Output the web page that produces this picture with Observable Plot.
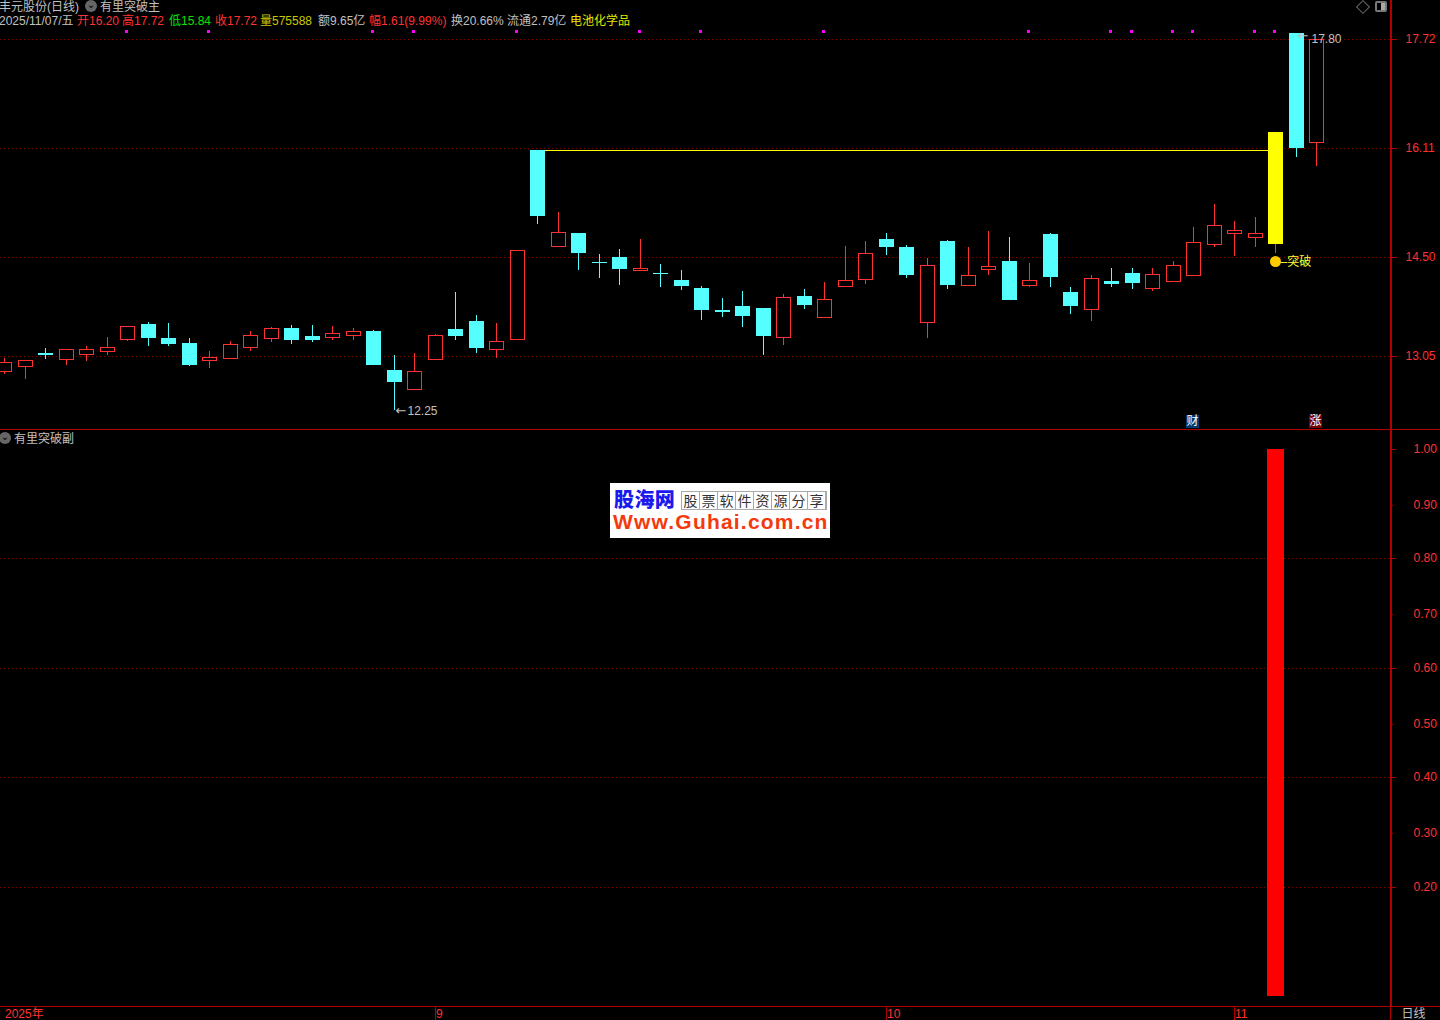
<!DOCTYPE html>
<html lang="zh">
<head>
<meta charset="utf-8">
<title>有里突破</title>
<script src="https://cdn.jsdelivr.net/npm/d3@7"></script>
<script src="https://cdn.jsdelivr.net/npm/@observablehq/plot@0.6"></script>
<style>
html,body{margin:0;padding:0;background:#000;overflow:hidden}
#page{position:relative;width:1440px;height:1020px;overflow:hidden;background:#000;font:12px "Liberation Sans","Noto Sans CJK SC",sans-serif}
#page svg{position:absolute;left:0;display:block}
.t{position:absolute;white-space:nowrap;line-height:14px;height:14px;color:#c0c0c0}
.ic{position:absolute;width:12px;height:12px;border-radius:50%;background:#666;color:#111;text-align:center;line-height:9px;font-size:10px;font-weight:bold;font-family:"DejaVu Sans"}
#wm{position:absolute;left:610px;top:483px;width:220px;height:55px;background:#fff;overflow:hidden}
#wm div{position:absolute;white-space:nowrap}
#wm .a{left:4px;top:7px;font:900 20px/20px "Liberation Sans","Noto Sans CJK SC";color:#1a1aee;letter-spacing:.4px}
#wm .b{left:71px;top:8px;display:flex;border:1px solid #aaa;height:17px}
#wm .b span{width:17px;text-align:center;font:14px/17px "Noto Sans CJK SC";color:#333;border-right:1px solid #aaa;box-sizing:content-box}
#wm .c{left:3px;top:29px;font:bold 21px/20px "Liberation Sans";color:#f43a0c;letter-spacing:1.2px}
</style>
</head>
<body>
<div id="page"></div>
<script>
// ---- price series, one value per trading day ----
const opens = [12.83,12.89,13.09,13.00,13.08,13.12,13.30,13.52,13.31,13.24,12.99,13.02,13.18,13.31,13.46,13.34,13.33,13.36,13.41,12.84,12.56,13.00,13.44,13.56,13.15,13.29,16.08,14.67,14.86,14.43,14.50,14.31,14.27,14.16,14.05,13.72,13.78,13.75,13.33,13.93,13.62,14.08,14.18,14.77,14.65,13.55,14.74,14.09,14.33,14.44,14.09,14.84,13.99,13.74,14.15,14.27,14.05,14.15,14.24,14.70,14.85,14.79,14.69,17.80,16.20];
const highs = [13.01,12.99,13.16,13.14,13.19,13.32,13.48,13.55,13.53,13.31,13.12,13.27,13.41,13.47,13.50,13.50,13.49,13.46,13.43,13.06,13.09,13.37,13.99,13.65,13.53,14.61,16.08,15.17,14.86,14.55,14.62,14.77,14.40,14.31,14.08,13.90,14.00,13.75,13.96,14.03,14.13,14.66,14.74,14.86,14.68,14.49,14.75,14.65,14.89,14.80,14.41,14.86,14.06,14.24,14.34,14.34,14.34,14.44,14.94,15.28,15.03,15.09,16.34,17.80,17.72];
const lows = [12.78,12.71,13.00,12.91,12.97,13.06,13.27,13.19,13.19,12.90,12.87,13.00,13.12,13.25,13.22,13.25,13.28,13.28,12.91,12.25,12.56,12.98,13.28,13.09,13.01,13.29,14.99,14.65,14.31,14.19,14.09,14.31,14.06,14.02,13.57,13.62,13.47,13.06,13.21,13.74,13.62,14.08,14.10,14.53,14.19,13.31,14.03,14.09,14.24,13.87,14.06,14.06,13.66,13.56,14.06,14.03,14.00,14.15,14.24,14.65,14.52,14.65,14.56,15.98,15.84];
const closes = [12.95,12.99,13.06,13.14,13.14,13.17,13.48,13.31,13.22,12.91,13.03,13.22,13.36,13.45,13.28,13.28,13.39,13.41,12.91,12.66,12.83,13.35,13.34,13.16,13.27,14.61,15.11,14.87,14.56,14.41,14.33,14.34,14.25,14.08,13.72,13.69,13.63,13.34,13.92,13.80,13.89,14.17,14.56,14.65,14.24,14.39,14.09,14.23,14.37,13.87,14.16,14.21,13.78,14.20,14.10,14.12,14.25,14.38,14.72,14.97,14.90,14.85,16.34,16.11,17.72];
// ---- events ----
const breakDay = 62;
const lineStartDay = 26;
const breakLevel = 16.08;
const breakDotPrice = 14.44;
const markerPrice = 17.83;
const markerDays = [6,10,18,20,25,31,34,40,50,54,55,57,58,61,62];
const lowDay = 19, lowPrice = 12.25;
const highDay = 63, highPrice = 17.80;
const tagDays = [58,64], tagTexts = ["财","涨"], tagColors = ["#003a70","#7a0000"], tagPrice = 12.08;
// ---- axes ----
const priceTicks = [17.72,16.11,14.50,13.05];
const signalMajor = [1,0.8,0.6,0.4,0.2];
const signalMinor = [0.9,0.7,0.5,0.3];
const signalGrid = [0.8,0.6,0.4,0.2];
const signalDays = [62], signalValues = [1];
const monthDays = [0,21,43,60], monthLabels = ["2025年","9","10","11"];
// ---- header text ----
const headTexts = ["2025/11/07/五","开16.20","高17.72","低15.84","收17.72","量575588","额9.65亿","幅1.61(9.99%)","换20.66%","流通2.79亿","电池化学品"];
const headColors = ["#c0c0c0","#ff3232","#ff3232","#00e600","#ff3232","#c8c800","#c0c0c0","#ff3232","#c0c0c0","#c0c0c0","#e6e600"];
const headLefts = [-1,77,122,169,215,260,318,369,451,507,570];

const RED="#ff3232", CY="#55ffff", YEL="#ffff00", LINE="#b00000", GRID="#800000", GREY="#c0c0c0";
const FONT='"Liberation Sans","Noto Sans CJK SC",sans-serif';
const ARROW='"DejaVu Sans"';
const bars = d3.range(opens.length).map(i=>({i,open:opens[i],high:highs[i],low:lows[i],close:closes[i]}));
const isUp = d=>d.i!==breakDay && d.close>=d.open && d.i!==63;
const isDown = d=>d.i!==breakDay && !isUp(d);
const wickColor = d=>(isUp(d)||d.i===breakDay?RED:CY);
const xDomain=[-0.2098,67.6];           // the plot area ends at the right-hand axis line
const xEnd=70.04;                       // beyond the axis line, for full-width rules
const crisp={shapeRendering:"crispEdges"};
const dotted={stroke:GRID,strokeDasharray:"1,3",dx:-0.5,...crisp};
const base={width:1440,margin:0,marginRight:50,style:{background:"#000",fontFamily:FONT,fontSize:"12px",overflow:"hidden"}};
const xS={domain:xDomain,range:[0,1390],axis:null,round:true};

// ---- upper panel: candles ----
const topPanel=Plot.plot({...base,height:430,x:xS,y:{domain:[11.969,18.287],range:[429,0],round:true},marks:[
  Plot.ruleY(priceTicks,dotted),
  Plot.ruleY([11.969],{x1:xDomain[0],x2:xEnd,stroke:LINE,...crisp}),
  Plot.ruleX([xDomain[1]],{y1:11.969,y2:18.287,stroke:LINE,strokeWidth:2,dx:0.5,...crisp}),
  Plot.ruleY([breakLevel],{x1:lineStartDay,x2:breakDay,stroke:YEL,...crisp}),
  Plot.ruleX(bars,{x:"i",y1:"low",y2:"high",stroke:wickColor,...crisp}),
  Plot.rect(bars.filter(isDown),{x1:d=>d.i-0.344,x2:d=>d.i+0.388,y1:"open",y2:"close",fill:CY,...crisp}),
  Plot.rect(bars.filter(isUp),{x1:d=>d.i-0.344,x2:d=>d.i+0.342,y1:"open",y2:"close",fill:"#000",stroke:RED,...crisp}),
  Plot.rect(bars.filter(d=>d.i===breakDay),{x1:d=>d.i-0.344,x2:d=>d.i+0.388,y1:"open",y2:"close",fill:YEL,...crisp}),
  Plot.dot(markerDays,{x:d=>d,y:()=>markerPrice,symbol:"square",r:1.7,fill:"#ff00ff",dx:-1,...crisp}),
  Plot.dot([breakDay],{x:d=>d,y:()=>breakDotPrice,r:5.5,fill:"#ffcc00"}),
  Plot.text([breakDay],{x:d=>d,y:()=>breakDotPrice,text:()=>"–突破",textAnchor:"start",dx:5,dy:1,fill:"#ffff33",fontSize:12}),
  Plot.text([lowDay],{x:d=>d,y:()=>lowPrice,text:()=>"←",textAnchor:"start",dx:1,fill:GREY,fontSize:13,fontFamily:ARROW}),
  Plot.text([lowDay],{x:d=>d,y:()=>lowPrice,text:()=>"12.25",textAnchor:"start",dx:13,dy:1,fill:GREY,fontSize:12}),
  Plot.text([highDay],{x:d=>d,y:()=>highPrice,text:()=>"←",textAnchor:"start",dx:1,dy:2,fill:GREY,fontSize:13,fontFamily:ARROW}),
  Plot.text([highDay],{x:d=>d,y:()=>highPrice,text:()=>"17.80",textAnchor:"start",dx:15,dy:6,fill:GREY,fontSize:12}),
  Plot.dot(tagDays,{x:d=>d,y:()=>tagPrice,symbol:"square",r:7.5,fill:(d,i)=>tagColors[i],dx:-1,...crisp}),
  Plot.text(tagDays,{x:d=>d,y:()=>tagPrice,text:(d,i)=>tagTexts[i],fill:"#fff",fontSize:12,dx:-1}),
  Plot.axisY(priceTicks,{anchor:"right",tickSize:6,tickPadding:9,tickFormat:d3.format(".2f"),stroke:LINE,fill:RED,fontSize:12}),
]});
topPanel.style.top="0px";

// ---- lower panel: signal ----
const lowerPanel=Plot.plot({...base,height:576,x:xS,y:{domain:[0,1],range:[566,19],round:true},marks:[
  Plot.ruleY(signalGrid,dotted),
  Plot.ruleX([xDomain[1]],{stroke:LINE,strokeWidth:2,dx:0.5,...crisp}),
  Plot.rect(signalDays,{x1:d=>d-0.41,x2:d=>d+0.42,y1:()=>0,y2:(d,i)=>signalValues[i],fill:"#ff0000",...crisp}),
  Plot.axisY(signalMajor,{anchor:"right",tickSize:5,tickPadding:18,tickFormat:d3.format(".2f"),stroke:LINE,fill:RED,fontSize:12}),
  Plot.axisY(signalMinor,{anchor:"right",tickSize:2,tickPadding:21,tickFormat:d3.format(".2f"),stroke:LINE,fill:RED,fontSize:12,dy:1}),
]});
lowerPanel.style.top="430px";

// ---- date strip ----
const strip=Plot.plot({...base,height:14,x:xS,y:{domain:[0,14],range:[0,14],axis:null},marks:[
  Plot.ruleY([0],{x1:xDomain[0],x2:xEnd,stroke:LINE,...crisp}),
  Plot.ruleX(monthDays.slice(1),{y1:0,y2:14,stroke:LINE,...crisp}),
  Plot.ruleX([xDomain[1]],{y1:0,y2:14,stroke:LINE,...crisp}),
  Plot.text(monthDays,{x:d=>d,y:()=>7,dy:1,text:(d,i)=>monthLabels[i],textAnchor:"start",dx:0.5,fill:RED,fontSize:12}),
  Plot.text([xEnd-1.3],{x:d=>d,y:()=>7,dy:1,text:()=>"日线",fill:GREY,textAnchor:"middle",fontSize:12}),
]});
strip.style.top="1006px";

const page=document.getElementById("page");
page.append(topPanel,lowerPanel,strip);

// ---- text over the panels ----
function label(txt,left,topPx,color){
  const s=document.createElement("div");s.className="t";s.textContent=txt;
  s.style.left=left+"px";s.style.top=topPx+"px";if(color)s.style.color=color;page.append(s);
}
function icon(left,topPx){
  const s=document.createElement("div");s.className="ic";s.textContent="⌄";
  s.style.left=left+"px";s.style.top=topPx+"px";page.append(s);
}
label("丰元股份(日线)",-1,0);
icon(85,0);
label("有里突破主",100,0);
headTexts.forEach((t,i)=>label(t,headLefts[i],14,headColors[i]));
icon(-1,432);
label("有里突破副",14,432);
// top-right buttons
const dia=document.createElement("div");
dia.style.cssText="position:absolute;left:1358px;top:2px;width:8px;height:8px;border:1px solid #666;transform:rotate(45deg)";
const sq=document.createElement("div");
sq.style.cssText="position:absolute;left:1375px;top:1px;width:8px;height:7px;border:2px solid #777;border-radius:2px;background:linear-gradient(90deg,#000 45%,#aaa 45%)";
page.append(dia,sq);
// watermark
const wm=document.createElement("div");wm.id="wm";
wm.innerHTML='<div class="a">股海网</div><div class="b">'+[..."股票软件资源分享"].map(c=>"<span>"+c+"</span>").join("")+'</div><div class="c">Www.Guhai.com.cn</div>';
page.append(wm);
</script>
</body>
</html>
